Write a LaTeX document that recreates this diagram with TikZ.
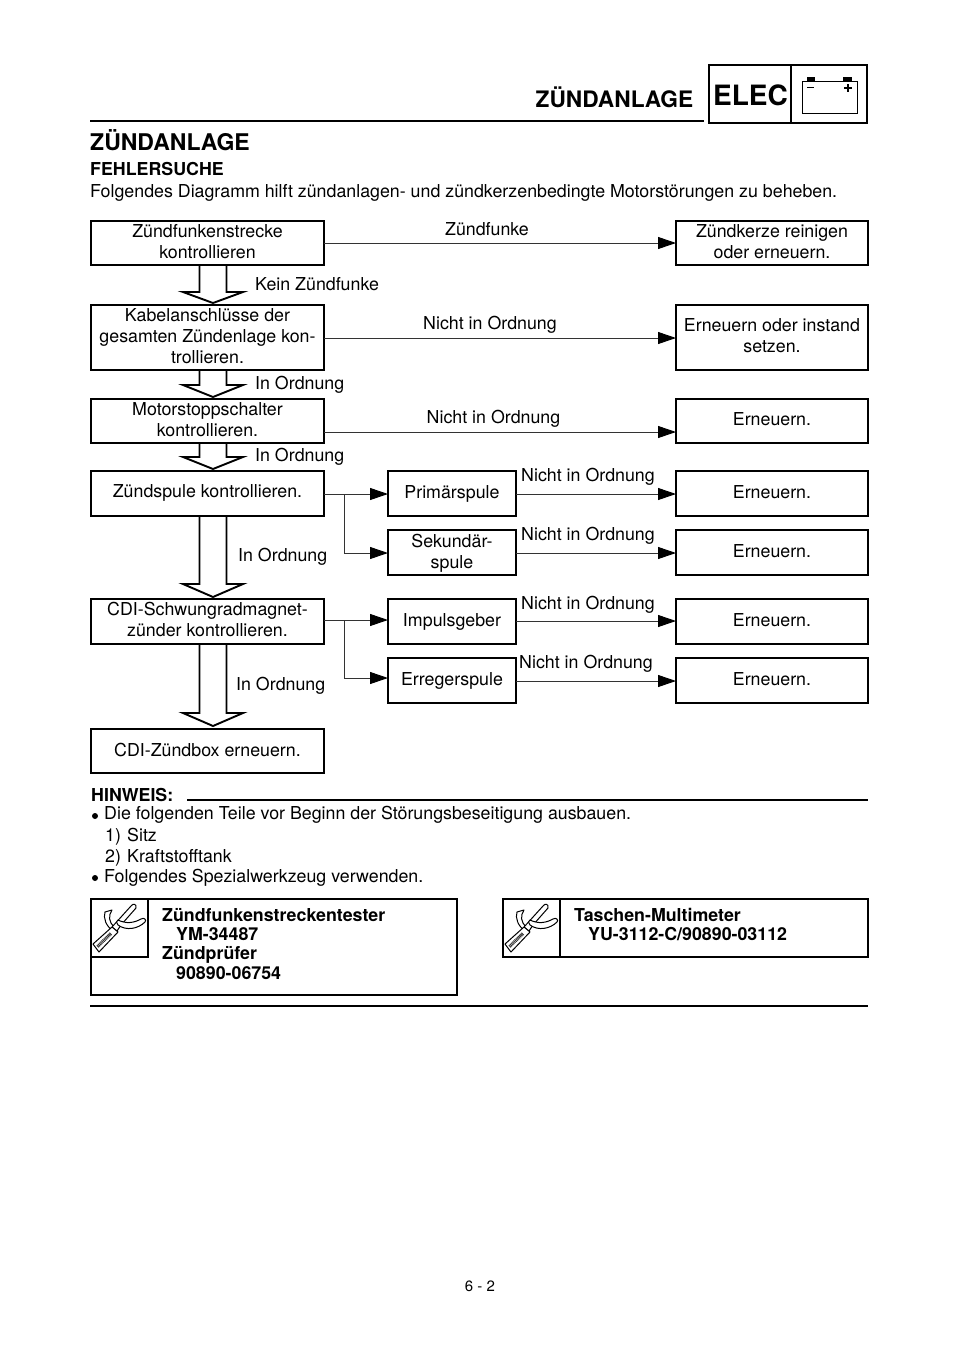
\documentclass[tikz,border=0pt]{standalone}
\usepackage{fontspec}
\setmainfont{TeX Gyre Heros}
\usetikzlibrary{arrows.meta}
\tikzset{
 x=1pt,y=-1pt,
 frame/.style={draw=black,line width=2.8pt,outer sep=0pt,inner sep=0pt},
 boxtext/.style={inner sep=0pt,font=\fontsize{17.8}{21}\selectfont,align=center,text=black},
 lab/.style={inner sep=0pt,font=\fontsize{17.8}{21}\selectfont,text=black,anchor=base},
 txt/.style={inner sep=0pt,font=\fontsize{17.8}{21}\selectfont,text=black,anchor=base west},
 bld/.style={inner sep=0pt,font=\fontsize{17.8}{21}\selectfont\bfseries,text=black,anchor=base west},
 conn/.style={draw=black!80,line width=0.95pt,-{Triangle[length=18pt,width=12pt,black]}},
 blk/.style={draw=black,fill=white,line width=1.9pt,line join=miter},
 rule/.style={draw=black,line width=2.7pt},
 toolframe/.style={draw=black,line width=2.7pt},
}
\def\tup{1.5pt}
\newcommand{\mybox}[6]{%
 \node[frame,minimum width=#4 pt-#2 pt-1pt,minimum height=#5 pt-#3 pt-1pt,anchor=north west] (#1) at (#2+1,#3+1) {};
 \node[boxtext] (#1-t) at ([yshift=\tup]#1.center) {#6};}
\newcommand{\blockarrow}[4]{% x centre, top y, shoulder y, tip y
 \draw[blk] (#1-13.5,#2)--(#1-13.5,#3)--(#1-30,#3)--(#1,#4)--(#1+30,#3)--(#1+13.5,#3)--(#1+13.5,#2);
 \draw[white,line width=2.2pt] (#1-12.4,#3)--(#1+12.4,#3);}
\newcommand{\toolicon}[2]{%
 \begin{scope}[shift={(#1,#2)},line width=1pt,line join=round]
  % hook
  \draw[fill=white] (26,31)..controls (21,26) and (20,20) .. (24,14)--(17,16)..controls (15,22) and (18,30) .. (25,35);
  % blade
  \draw[fill=white] (24,31)--(43,10)..controls (45,7) and (49,8) .. (48,12)--(33,29)--(29,35)--cycle;
  % arm
  \draw[fill=white] (30,24)..controls (38,28) and (46,27) .. (53,23)..controls (56,21) and (59,24) .. (57,26)..controls (50,33) and (38,35) .. (30,29)..controls (28,27) and (28,25) .. (30,24)--cycle;
  % handle
  \draw[fill=white] (5,48)--(24,31)--(30,36)--(11,56)--cycle;
  \draw[line width=3.2pt,black!80,dash pattern=on 1pt off .6pt] (9.5,50.5)--(23,37.5);
 \end{scope}}
\begin{document}
\begin{tikzpicture}
\useasboundingbox[fill=white] (0,0) rectangle (960,1358);
% header
\draw[rule] (90,121)--(704,121);
\node[bld,font=\fontsize{22.7}{26}\selectfont\bfseries] (hd1) at (535.5,107.5) {ZÜNDANLAGE};
\draw[line width=2.8pt] (709,65) rectangle (867,123);
\draw[line width=2.8pt] (791,65)--(791,123);
\node[bld,font=\fontsize{28}{32}\selectfont\bfseries] (elec) at (713,105.5) {ELEC};
\draw[line width=.9pt] (802,81) rectangle (857,113);
\fill (807,76.5) rectangle (815,81);
\fill (843,76.5) rectangle (852,81);
\draw[line width=1.5pt] (807,87.5)--(814,87.5);
\draw[line width=1.5pt] (844,88)--(852,88) (848,84)--(848,92);
% titles
\node[bld,font=\fontsize{23}{28}\selectfont\bfseries] (t1) at (90,150) {ZÜNDANLAGE};
\node[bld] (t2) at (90,175) {FEHLERSUCHE};
\node[txt] (t3) at (90,197) {Folgendes Diagramm hilft zündanlagen- und zündkerzenbedingte Motorstörungen zu beheben.};
% block arrows
\blockarrow{213}{266}{292}{303}
\blockarrow{213}{371}{385}{397}
\blockarrow{213}{444}{457}{469}
\blockarrow{213}{517}{584}{597}
\blockarrow{213}{645}{713}{726}
% left column
\mybox{a}{90}{220}{324}{265}{Zündfunkenstrecke\\kontrollieren}
\mybox{b}{90}{304}{324}{370}{Kabelanschlüsse der\\gesamten Zündenlage kon-\\trollieren.}
\mybox{c}{90}{398}{324}{443}{Motorstoppschalter\\kontrollieren.}
\def\tup{0.5pt}
\mybox{d}{90}{470}{324}{516}{Zündspule kontrollieren.}
\def\tup{2.5pt}
\mybox{e}{90}{598}{324}{644}{CDI-Schwungradmagnet-\\zünder kontrollieren.}
\def\tup{0.5pt}
\mybox{f}{90}{728}{324}{773}{CDI-Zündbox erneuern.}
% middle column
\def\tup{-0.5pt}
\mybox{p}{387}{470}{516}{516}{Primärspule}
\mybox{s}{387}{529}{516}{575}{Sekundär-\\spule}
\mybox{i}{387}{598}{516}{644}{Impulsgeber}
\mybox{r}{387}{657}{516}{703}{Erregerspule}
% right column
\def\tup{1.5pt}
\mybox{ra}{675}{220}{868}{265}{Zündkerze reinigen\\oder erneuern.}
\mybox{rb}{675}{304}{868}{370}{Erneuern oder instand\\setzen.}
\mybox{rc}{675}{398}{868}{443}{Erneuern.}
\mybox{rd}{675}{470}{868}{516}{Erneuern.}
\mybox{re}{675}{529}{868}{575}{Erneuern.}
\mybox{rf}{675}{598}{868}{644}{Erneuern.}
\mybox{rg}{675}{657}{868}{703}{Erneuern.}
% connectors
\coordinate (ja) at (344.5,494);
\coordinate (jb) at (344.5,620);
\draw[conn] (a.east |- 0,243) -- (ra.west |- 0,243);
\draw[conn] (b.east |- 0,338) -- (rb.west |- 0,338);
\draw[conn] (c.east |- 0,432) -- (rc.west |- 0,432);
\draw[conn] (d.east |- ja) -- (p.west |- ja);
\draw[conn] (ja) |- (s.west |- 0,553);
\draw[conn] (e.east |- jb) -- (i.west |- jb);
\draw[conn] (jb) |- (r.west |- 0,678);
\draw[conn] (p.east |- 0,494) -- (rd.west |- 0,494);
\draw[conn] (s.east |- 0,553) -- (re.west |- 0,553);
\draw[conn] (i.east |- 0,621) -- (rf.west |- 0,621);
\draw[conn] (r.east |- 0,681) -- (rg.west |- 0,681);
% labels
\node[lab] (l1) at (487,235) {Zündfunke};
\node[lab,anchor=base west] (l2) at (255,290) {Kein Zündfunke};
\node[lab] (l3) at (490,329) {Nicht in Ordnung};
\node[lab,anchor=base west] (l4) at (255,389) {In Ordnung};
\node[lab] (l5) at (493.5,423) {Nicht in Ordnung};
\node[lab,anchor=base west] (l6) at (255,461) {In Ordnung};
\node[lab] (l7) at (588,481) {Nicht in Ordnung};
\node[lab,anchor=base west] (l8) at (238,561) {In Ordnung};
\node[lab] (l9) at (588,540) {Nicht in Ordnung};
\node[lab] (l10) at (588,609) {Nicht in Ordnung};
\node[lab,anchor=base west] (l11) at (236,690) {In Ordnung};
\node[lab] (l12) at (586,668) {Nicht in Ordnung};
% note
\node[bld] (n1) at (91,801) {HINWEIS:};
\draw[rule] (187,800)--(868,800);
\fill (95,816) circle (3);
\node[txt] (n2) at (104,819) {Die folgenden Teile vor Beginn der Störungsbeseitigung ausbauen.};
\node[txt] (n3) at (105,841) {1)};
\node[txt] (n3b) at (127,841) {Sitz};
\node[txt] (n4) at (105,862) {2)};
\node[txt] (n4b) at (127,862) {Kraftstofftank};
\fill (95,878) circle (3);
\node[txt] (n5) at (104,882) {Folgendes Spezialwerkzeug verwenden.};
% tool boxes
\draw[toolframe] (91,899) rectangle (457,995);
\draw[toolframe] (91,957)--(148,957)--(148,899);
\toolicon{88}{896}
\node[bld] (x1) at (162,921) {Zündfunkenstreckentester};
\node[bld] (x2) at (176,940) {YM-34487};
\node[bld] (x3) at (162,959) {Zündprüfer};
\node[bld] (x4) at (176,979) {90890-06754};
\draw[toolframe] (503,899) rectangle (868,957);
\draw[toolframe] (560,899)--(560,957);
\toolicon{500}{896}
\node[bld] (y1) at (574,921) {Taschen-Multimeter};
\node[bld] (y2) at (588,940) {YU-3112-C/90890-03112};
\draw[rule] (90,1006)--(868,1006);
\node[inner sep=0pt,font=\fontsize{15}{18}\selectfont,text=black,anchor=base] (pg) at (480,1291) {6 - 2};
\end{tikzpicture}
\end{document}
